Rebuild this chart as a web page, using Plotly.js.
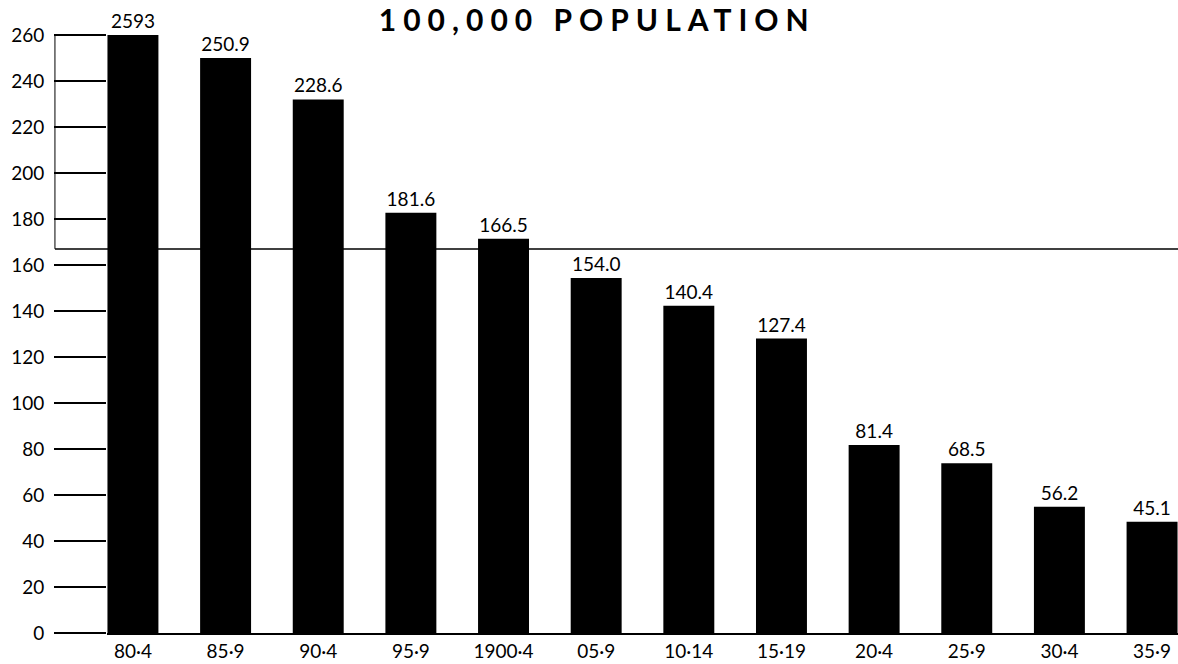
<!DOCTYPE html>
<html>
<head>
<meta charset="utf-8">
<script src="https://cdn.plot.ly/plotly-3.0.1.min.js"></script>
<style>
html,body{margin:0;padding:0;background:#fff;}
#chart{width:1178px;height:664px;}
</style>
</head>
<body>
<div id="chart"></div>
<script>
// Periods (x categories)
var periods = ["80·4", "85·9", "90·4", "95·9", "1900·4", "05·9", "10·14", "15·19", "20·4", "25·9", "30·4", "35·9"];
// Bar heights as drawn in the picture
var barHeights = [260, 250, 232, 182.7, 171.4, 154.3, 142.3, 128, 81.7, 73.8, 54.9, 48.4];
// Value labels as printed above the bars
var valueLabels = ["2593", "250.9", "228.6", "181.6", "166.5", "154.0", "140.4", "127.4", "81.4", "68.5", "56.2", "45.1"];
// Y axis ticks
var yTickVals = [0, 20, 40, 60, 80, 100, 120, 140, 160, 180, 200, 220, 240, 260];
var yTickText = ["0", "20", "40", "60", "80", "100", "120", "140", "160", "180", "200", "220", "240", "260"];
// Reference line level
var refLevel = 167;

var FONT = "Lato, 'DejaVu Sans', sans-serif";

var trace = {
  type: "bar",
  x: periods,
  y: barHeights,
  text: valueLabels,
  textposition: "outside",
  constraintext: "none",
  cliponaxis: false,
  textfont: {family: FONT, size: 19, color: "#000"},
  marker: {color: "#000", line: {width: 0}},
  hoverinfo: "none"
};

var layout = {
  width: 1178,
  height: 664,
  margin: {l: 107, r: 0, t: 35, b: 31},
  paper_bgcolor: "#fff",
  plot_bgcolor: "#fff",
  showlegend: false,
  bargap: 0.45,
  title: {
    text: "100,000 POPULATION",
    font: {family: FONT, size: 30, color: "#000", weight: 700},
    x: 0.507, xref: "container", xanchor: "center",
    y: 0.969, yref: "container", yanchor: "middle"
  },
  xaxis: {
    type: "category",
    range: [-0.28, 11.28],
    showgrid: false,
    zeroline: false,
    showline: true,
    linecolor: "#000",
    linewidth: 2,
    ticks: "",
    tickfont: {family: FONT, size: 19, color: "#000"},
    ticklabelstandoff: 0,
    fixedrange: true
  },
  yaxis: {
    range: [0, 260],
    tickvals: yTickVals,
    ticktext: yTickText,
    showgrid: false,
    zeroline: false,
    showline: false,
    ticks: "outside",
    ticklen: 52,
    tickwidth: 1.5,
    tickcolor: "#000",
    tickfont: {family: FONT, size: 19, color: "#000"},
    ticklabelstandoff: 6,
    fixedrange: true
  },
  shapes: [
    {type: "line", xref: "paper", yref: "y", x0: -0.0486, x1: 1, y0: refLevel, y1: refLevel,
     line: {color: "#000", width: 1.5}},
    {type: "line", xref: "paper", yref: "y", x0: -0.0486, x1: -0.0486, y0: refLevel, y1: 260,
     line: {color: "#000", width: 1}}
  ]
};

Plotly.newPlot("chart", [trace], layout, {staticPlot: true, displayModeBar: false}).then(function(){
  var t = document.querySelector(".gtitle");
  if (t) { t.style.letterSpacing = "7px"; }
});
</script>
</body>
</html>
